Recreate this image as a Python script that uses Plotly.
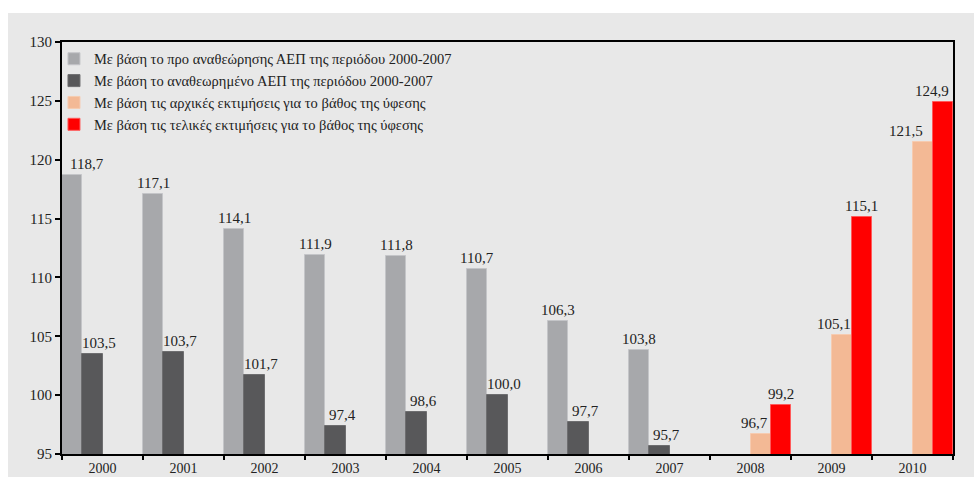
import plotly.graph_objects as go

years = ["2000", "2001", "2002", "2003", "2004", "2005", "2006", "2007", "2008", "2009", "2010"]

pre_revision = [118.7, 117.1, 114.1, 111.9, 111.8, 110.7, 106.3, 103.8, None, None, None]
revised = [103.5, 103.7, 101.7, 97.4, 98.6, 100.0, 97.7, 95.7, None, None, None]
initial_est = [None, None, None, None, None, None, None, None, 96.7, 105.1, 121.5]
final_est = [None, None, None, None, None, None, None, None, 99.2, 115.1, 124.9]

names = [
    "Με βάση το προ αναθεώρησης ΑΕΠ της περιόδου 2000-2007",
    "Με βάση το αναθεωρημένο ΑΕΠ της περιόδου 2000-2007",
    "Με βάση τις αρχικές εκτιμήσεις για το βάθος της ύφεσης",
    "Με βάση τις τελικές εκτιμήσεις για το βάθος της ύφεσης",
]
series = [pre_revision, revised, initial_est, final_est]
colors = ["#a7a8ab", "#58585a", "#f3b995", "#ff0000"]
edge = ["#c4c5c8", "#6e6e70", "#f6cbb0", "#ff5a5a"]

FONT = "Liberation Serif"
BG = "#e8e8e8"
FS = 15

# layout geometry (pixels)
L, R, T, B = 62, 21, 42, 23
W, H = 974, 477
plot_w = W - L - R
plot_h = H - T - B
slot = plot_w / len(years) / len(series)
slot_offsets = [(i - (len(series) - 1) / 2) * slot for i in range(len(series))]
series_label_shift = [0, 7, 0, 0]
# extra label nudges (series index, year) -> px, as in the original layout
label_nudge = {(0, "2000"): 15, (2, "2008"): -6, (2, "2009"): -8, (2, "2010"): -17, (3, "2010"): -11}

fig = go.Figure()
annotations = []
for si, (name, vals, c, e) in enumerate(zip(names, series, colors, edge)):
    fig.add_trace(go.Bar(
        x=years, y=vals, name=name,
        marker=dict(color=c, line=dict(color=e, width=1)),
    ))
    for ci, (yr, v) in enumerate(zip(years, vals)):
        if v is None:
            continue
        annotations.append(dict(
            x=ci, y=v, xref="x", yref="y",
            text=("%.1f" % v).replace(".", ","),
            showarrow=False, yanchor="bottom", xanchor="center",
            xshift=slot_offsets[si] + series_label_shift[si] + label_nudge.get((si, yr), 0),
            yshift=1,
            font=dict(family=FONT, size=FS, color="#222222"),
        ))

fig.update_layout(
    width=W, height=H,
    margin=dict(l=L, r=R, t=T, b=B, autoexpand=False),
    barmode="group", bargap=0, bargroupgap=0,
    paper_bgcolor="white", plot_bgcolor=BG,
    font=dict(family=FONT, size=FS, color="#222222"),
    showlegend=True,
    annotations=annotations,
    legend=dict(
        x=-0.009, y=0.998, xanchor="left", yanchor="top",
        bgcolor="rgba(0,0,0,0)", font=dict(family=FONT, size=14.5, color="#222222"),
        itemwidth=30, tracegroupgap=0, traceorder="normal",
    ),
    shapes=[dict(
        type="rect", xref="paper", yref="paper",
        x0=(8 - L) / plot_w, x1=(W - L) / plot_w,
        y0=-B / plot_h, y1=((H - B) - 13) / plot_h,
        fillcolor=BG, line=dict(width=0), layer="below",
    )],
)
fig.update_xaxes(
    type="category", range=[-0.5, len(years) - 0.5],
    showline=True, linecolor="black", linewidth=2, mirror=True,
    ticks="outside", tickson="boundaries", ticklen=4, tickwidth=2, tickcolor="black",
    tickfont=dict(family=FONT, size=14, color="#222222"), showgrid=False, automargin=False,
)
fig.update_yaxes(
    range=[95, 130], dtick=5, showline=True, linecolor="black", linewidth=2, mirror=True,
    ticks="outside", ticklen=5, tickwidth=2, tickcolor="black",
    tickfont=dict(family=FONT, size=FS, color="#222222"), showgrid=False, zeroline=False,
    automargin=False,
)
fig.write_html("out.html")
